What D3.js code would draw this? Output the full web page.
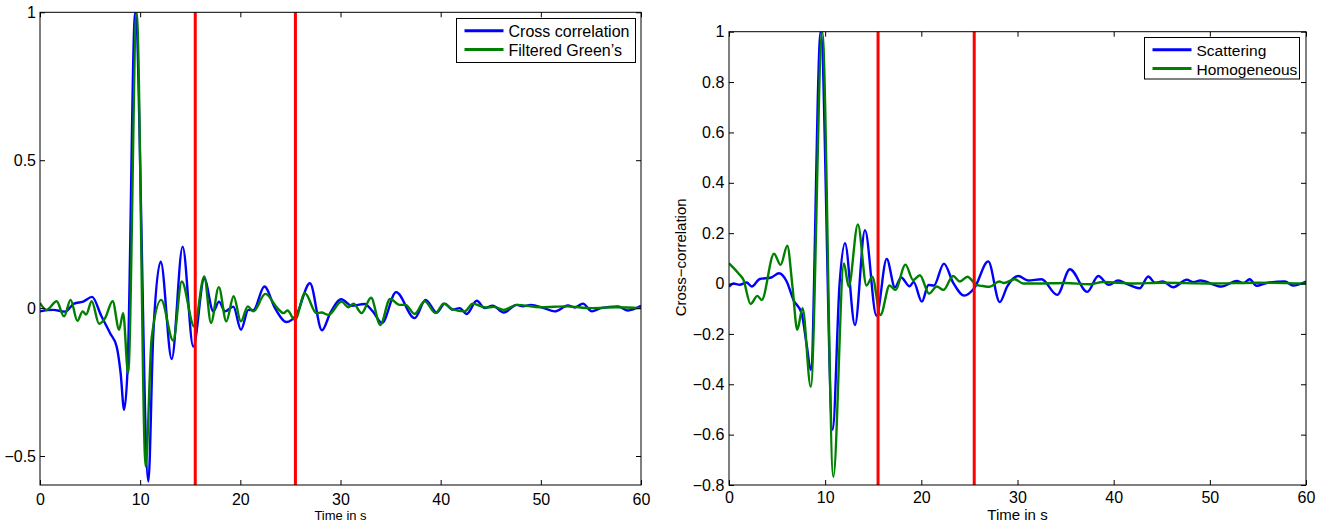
<!DOCTYPE html>
<html>
<head>
<meta charset="utf-8">
<script src="https://cdnjs.cloudflare.com/ajax/libs/d3/7.8.5/d3.min.js"></script>
<style>
    body { margin: 0; background: #fff; }
    svg text { font-family: "Liberation Sans", Arial, Helvetica, sans-serif; fill: #000; }
</style>
</head>
<body>
<svg id="chart" width="1327" height="524"></svg>
<script>
// ---- data (time in s, normalised amplitude) ----
var xTicks = [0, 10, 20, 30, 40, 50, 60];
var leftYTicks = [-0.5, 0, 0.5, 1];
var rightYTicks = [-0.8, -0.6, -0.4, -0.2, 0, 0.2, 0.4, 0.6, 0.8, 1];
var markerTimes = [15.5, 25.5];

// left panel : cross correlation
var leftBlueT = [0, 1.3, 2.5, 3.4, 4.3, 5.2, 6.1, 7.0, 7.65, 8.05, 8.4, 8.75, 9.5, 10.82, 11.3, 12.05, 13.15, 14.24, 15.3, 16.4,
    17.3, 17.87, 18.47, 19.3, 20.07, 20.8, 21.3, 22.4, 23.46, 24.6, 25.6, 26.95, 28.15, 29.0, 30.08, 31.1, 32.4, 33.2, 34.15, 35.55,
    37.4, 38.5, 39.6, 40.4, 41.2, 41.9, 42.6, 43.6, 44.4, 45.2, 46.3, 47.6, 48.2, 49.0, 50.3, 51.4, 52.7, 53.4, 54.2, 55.1,
    56.0, 57.7, 58.7, 60];
var leftBlueV = [-0.011, -0.006, -0.012, 0.015, 0.022, 0.038, -0.025, -0.085, -0.13, -0.22, -0.344, -0.2, 1.0, -0.586, -0.096, 0.157, -0.172, 0.208, -0.13, 0.1,
    -0.011, 0.022, -0.011, 0.005, -0.073, -0.006, -0.007, 0.073, 0.0, -0.047, -0.022, 0.084, -0.075, -0.015, 0.03, 0.008, 0.014, -0.01, -0.05, 0.054,
    -0.034, 0.028, -0.015, 0.015, -0.005, 0.0, -0.02, 0.025, 0.0, 0.008, -0.015, 0.011, 0.006, 0.011, 0.0, -0.011, 0.009, 0.002, 0.015, -0.011,
    0.0, 0.006, -0.008, 0.008];

// left panel : filtered green's function
var leftGreenT = [0, 0.67, 1.66, 2.4, 3.06, 3.73, 4.26, 4.6, 5.16, 5.9, 6.5, 7.25, 7.9, 8.3, 8.8, 9.65, 10.55, 11.15, 12.1, 13.3,
    14.15, 15.4, 16.4, 17.07, 17.85, 18.6, 19.33, 20.05, 20.75, 21.3, 22.5, 23.7, 24.3, 24.7, 25.45, 26.45, 27.6, 28.1, 28.8, 30.1,
    30.8, 31.3, 32.1, 33.05, 33.97, 34.95, 35.9, 36.5, 37.4, 38.4, 39.5, 40.3, 41.2, 42.4, 43.2, 44.5, 45.3, 46.3, 47.6, 50.0,
    52.6, 55.0, 57.5, 60];
var leftGreenV = [0.017, -0.006, 0.023, -0.028, 0.028, -0.043, -0.011, -0.022, 0.023, -0.053, -0.034, 0.023, -0.073, -0.017, -0.22, 1.0, -0.535, -0.1, 0.028, -0.11,
    0.09, -0.062, 0.107, -0.05, 0.071, -0.045, 0.04, -0.045, 0.006, -0.011, 0.048, 0.0, -0.017, -0.008, -0.04, 0.05, -0.017, -0.015, -0.023, 0.022,
    0.003, 0.015, -0.017, 0.035, -0.057, 0.031, 0.011, 0.011, -0.02, 0.023, -0.017, 0.015, -0.004, -0.011, 0.015, 0.002, 0.004, -0.006, 0.011, 0.003,
    0.006, 0.0, 0.003, 0.0];

// right panel : scattering
var rightBlueT = [0, 0.45, 1.1, 1.84, 2.36, 3.2, 4.4, 5.2, 6.0, 6.7, 7.55, 8.1, 8.5, 9.53, 10.78, 11.5, 12.06, 13.1, 14.14, 15.33,
    16.4, 17.25, 17.9, 18.78, 19.2, 20.05, 20.75, 21.3, 22.35, 23.3, 24.45, 25.5, 26.96, 28.15, 28.95, 30.08, 31.1, 32.5, 34.13, 35.45,
    37.25, 38.4, 39.5, 40.47, 41.3, 42.7, 43.6, 44.3, 45.1, 46.2, 47.6, 48.3, 49.0, 51.2, 52.8, 53.5, 54.15, 54.85, 55.9, 57.8,
    58.66, 60];
var rightBlueV = [-0.012, 0.0, -0.005, 0.004, -0.012, 0.018, 0.024, 0.041, 0.008, -0.065, -0.118, -0.25, -0.343, 1.0, -0.58, 0.0, 0.16, -0.165, 0.212, -0.128,
    0.098, -0.015, 0.024, -0.011, 0.006, -0.072, -0.006, -0.008, 0.079, 0.004, -0.048, -0.019, 0.088, -0.074, -0.01, 0.03, 0.012, 0.017, -0.045, 0.057,
    -0.033, 0.03, -0.005, 0.012, 0.0, -0.019, 0.028, 0.003, 0.008, -0.015, 0.015, 0.005, 0.012, -0.012, 0.01, 0.002, 0.017, -0.009, 0.002, 0.008,
    -0.008, 0.008];

// right panel : homogeneous
var rightGreenT = [0, 0.97, 1.5, 2.25, 2.95, 3.4, 4.68, 5.37, 6.06, 6.6, 7.1, 7.65, 8.5, 9.7, 10.85, 11.95, 12.45, 13.4, 14.3, 14.9,
    15.75, 16.7, 17.3, 18.35, 19.15, 19.85, 20.8, 21.6, 22.3, 23.3, 24.0, 24.8, 25.7, 26.4, 27.1, 28.1, 28.6, 29.7, 30.6, 32.0,
    35.0, 37.5, 38.9, 42.0, 45.0, 50.0, 55.0, 60];
var rightGreenV = [0.08, 0.041, 0.015, -0.081, -0.049, -0.065, 0.118, 0.074, 0.15, -0.012, -0.184, -0.098, -0.41, 1.0, -0.767, 0.08, -0.012, 0.235, -0.008, 0.027,
    -0.125, -0.008, -0.025, 0.075, 0.014, 0.033, -0.04, -0.012, -0.025, 0.03, 0.008, 0.027, -0.005, -0.01, -0.013, 0.008, 0.002, 0.017, 0.0, 0.0,
    0.002, -0.003, 0.006, 0.0, 0.003, 0.0, 0.003, 0.0];

var leftLabels = ["Cross correlation", "Filtered Green\u2019s"];
var rightLabels = ["Scattering", "Homogeneous"];

var blue = "#0000ff", green = "#008000", red = "#ff0000";
var svg = d3.select("#chart");

function drawPanel(p) {
    var x = d3.scaleLinear().domain([0, 60]).range([p.left, p.right]);
    var y = d3.scaleLinear().domain(p.yDomain).range([p.bottom, p.top]);
    var g = svg.append("g");

    var clipId = "clip" + p.id;
    g.append("clipPath").attr("id", clipId).append("rect")
        .attr("x", p.left).attr("y", p.top)
        .attr("width", p.right - p.left).attr("height", p.bottom - p.top);

    var lineFun = d3.line()
        .x(function (d) { return x(d[0]); })
        .y(function (d) { return y(d[1]); })
        .curve(d3.curveMonotoneX);

    // curves
    p.series.forEach(function (s) {
        var pts = s.t.map(function (t, i) { return [t, s.v[i]]; });
        g.append("path")
            .attr("d", lineFun(pts))
            .attr("clip-path", "url(#" + clipId + ")")
            .attr("fill", "none")
            .attr("stroke", s.color)
            .attr("stroke-width", 2.4)
            .attr("stroke-linejoin", "round");
    });

    // red window markers
    g.selectAll("line.marker").data(markerTimes).enter().append("line")
        .attr("class", "marker")
        .attr("x1", function (d) { return x(d); }).attr("x2", function (d) { return x(d); })
        .attr("y1", p.top).attr("y2", p.bottom)
        .attr("stroke", red).attr("stroke-width", 3);

    // axes, ticks pointing inwards on all four sides
    var fmt = d3.format("");
    var axB = g.append("g").attr("transform", "translate(0," + p.bottom + ")")
        .call(d3.axisBottom(x).tickValues(xTicks).tickFormat(fmt).tickSizeInner(-5).tickSizeOuter(0).tickPadding(p.xPad));
    var axT = g.append("g").attr("transform", "translate(0," + p.top + ")")
        .call(d3.axisTop(x).tickValues(xTicks).tickFormat("").tickSizeInner(-5).tickSizeOuter(0));
    var axL = g.append("g").attr("transform", "translate(" + p.left + ",0)")
        .call(d3.axisLeft(y).tickValues(p.yTicks).tickFormat(fmt).tickSizeInner(-5).tickSizeOuter(0).tickPadding(p.yPad));
    var axR = g.append("g").attr("transform", "translate(" + p.right + ",0)")
        .call(d3.axisRight(y).tickValues(p.yTicks).tickFormat("").tickSizeInner(-5).tickSizeOuter(0));
    [axB, axT, axL, axR].forEach(function (a) {
        a.select(".domain").remove();
        a.attr("font-family", null).attr("font-size", 16);
        a.selectAll("line").attr("stroke", "#000");
    });

    g.append("rect")
        .attr("x", p.left).attr("y", p.top)
        .attr("width", p.right - p.left).attr("height", p.bottom - p.top)
        .attr("fill", "none").attr("stroke", "#000").attr("stroke-width", 1);

    // axis titles
    g.append("text")
        .attr("x", (p.left + p.right) / 2).attr("y", 519.5)
        .attr("text-anchor", "middle").attr("font-size", p.xLabelSize)
        .text("Time in s");
    if (p.yLabel) {
        g.append("text")
            .attr("transform", "translate(686," + ((p.top + p.bottom) / 2 - 1) + ") rotate(-90)")
            .attr("text-anchor", "middle").attr("font-size", 15)
            .text(p.yLabel);
    }

    // legend
    var lg = p.legend;
    g.append("rect")
        .attr("x", lg.x).attr("y", lg.y).attr("width", lg.w).attr("height", lg.h)
        .attr("fill", "#fff").attr("stroke", "#000").attr("stroke-width", 1);
    p.labels.forEach(function (lab, i) {
        var ly = lg.y + 12.3 + i * 18.8;
        g.append("line")
            .attr("x1", lg.x + 8).attr("x2", lg.x + 47)
            .attr("y1", ly).attr("y2", ly)
            .attr("stroke", p.series[i].color).attr("stroke-width", 3);
        g.append("text")
            .attr("x", lg.x + 52).attr("y", ly + 6)
            .attr("font-size", lg.fs)
            .text(lab);
    });
}

drawPanel({
    id: "L", left: 40, right: 641, top: 12.3, bottom: 485,
    yDomain: [-0.598, 1], yTicks: leftYTicks, xPad: 8.5, yPad: 4,
    xLabelSize: 13, yLabel: null,
    series: [{ t: leftBlueT, v: leftBlueV, color: blue }, { t: leftGreenT, v: leftGreenV, color: green }],
    labels: leftLabels,
    legend: { x: 456.5, y: 18.5, w: 179, h: 44, fs: 16 }
});

drawPanel({
    id: "R", left: 729, right: 1306, top: 31.7, bottom: 485,
    yDomain: [-0.8, 1], yTicks: rightYTicks, xPad: 7, yPad: 4.7,
    xLabelSize: 15, yLabel: "Cross\u2212correlation",
    series: [{ t: rightBlueT, v: rightBlueV, color: blue }, { t: rightGreenT, v: rightGreenV, color: green }],
    labels: rightLabels,
    legend: { x: 1144.5, y: 37.5, w: 155, h: 41.5, fs: 15.5 }
});
</script>
</body>
</html>
